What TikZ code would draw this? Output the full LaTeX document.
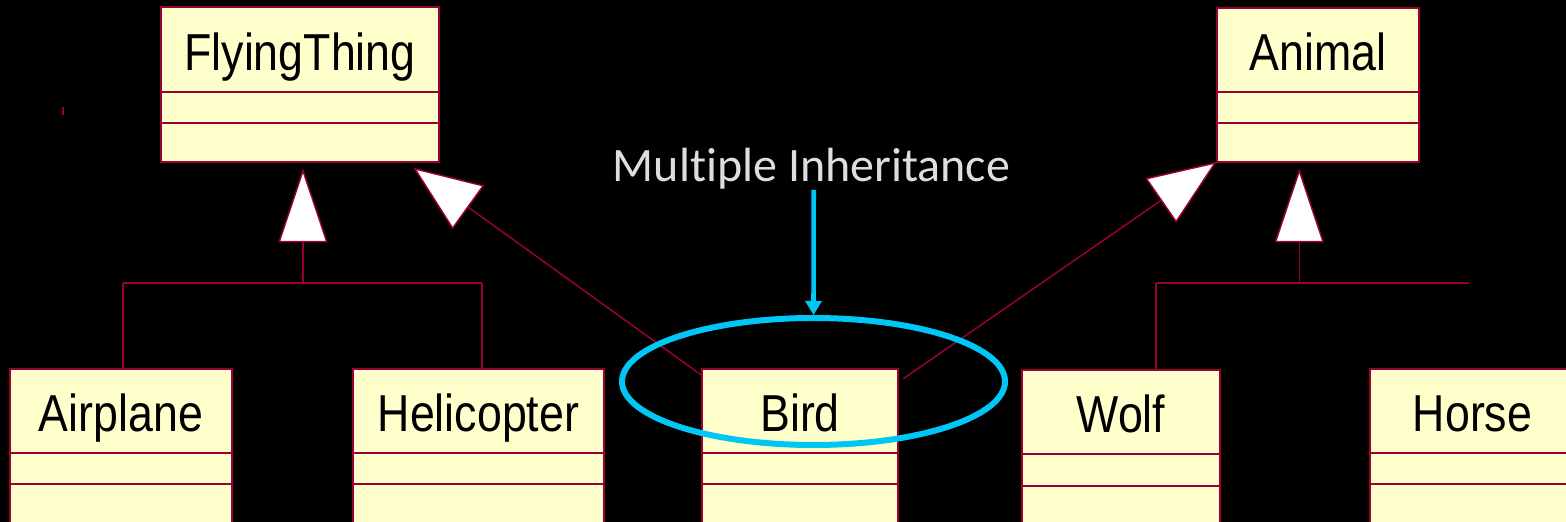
\documentclass[tikz,border=0pt]{standalone}
\usepackage{fontspec}
\newfontfamily\umlfont[FakeStretch=0.86]{Liberation Sans}
\newfontfamily\notefont[Ligatures=NoCommon,Contextuals=NoAlternate]{Carlito}
\usetikzlibrary{arrows.meta,fit,shapes.geometric}
\definecolor{umlred}{RGB}{153,0,51}
\definecolor{umlfill}{RGB}{255,255,204}
\definecolor{notecyan}{RGB}{0,198,245}
\definecolor{notegray}{RGB}{222,222,222}

% one UML class: name, x1, y1, x2, y2, first divider, second divider, title
\newcommand\umlclass[8]{%
  \node[clsbox, fit={(#2,#3) (#4,#5)}] (#1) {};
  \draw[divider] (#2,#6) -- (#4,#6) (#2,#7) -- (#4,#7);
  \node[clstitle] (#1-title) at ({(#2+#4)/2},{(#3+#6)/2+21}) {#8};
}

\begin{document}
\begin{tikzpicture}[x=0.5pt,y=-0.5pt,
  clsbox/.style={rectangle, draw=umlred, fill=umlfill, line width=1pt, inner sep=0pt},
  divider/.style={draw=umlred, line width=0.75pt},
  clstitle/.style={anchor=base, inner sep=0pt, text=black,
    font=\umlfont\fontsize{26pt}{30pt}\selectfont},
  genline/.style={draw=umlred, line width=0.75pt},
  genup/.style={genline, -{Triangle[length=37pt,width=24.5pt,fill=white]}},
  gendiag/.style={genline, -{Triangle[length=34pt,width=27pt,fill=white]}},
  notetext/.style={anchor=base, inner sep=0pt, text=notegray,
    font=\notefont\fontsize{24pt}{28pt}\selectfont},
  notearrow/.style={draw=notecyan, line width=2.3pt,
    -{Triangle[length=7pt,width=8pt]}},
  focusring/.style={ellipse, draw=notecyan, line width=3pt, inner sep=0pt,
    minimum width=191.5pt, minimum height=63.5pt}]

\useasboundingbox (0,0) rectangle (1566,522);
\fill[black] (0,0) rectangle (1566,522);
\clip (0,0) rectangle (1566,522);

% junction points of the generalisation trees
\coordinate (ftTip)     at (303,168.3);
\coordinate (ftJoin)    at (303,283);
\coordinate (planeTop)  at (123,283);
\coordinate (heliTop)   at (482,283);
\coordinate (anTip)     at (1299.3,168.3);
\coordinate (anJoin)    at (1299.3,283);
\coordinate (wolfTop)   at (1156,283);
\coordinate (anRight)   at (1469.3,283);
\coordinate (birdLeft)  at (702.7,376);
\coordinate (birdRight) at (903.3,378.7);
\coordinate (ftDiagTip) at (413.3,167.7);
\coordinate (anDiagTip) at (1216.6,161.9);
\coordinate (noteTail)  at (813.7,190);

% connectors
\draw[genline] (planeTop) -- (heliTop);
\draw[genline] (planeTop) -- (planeTop |- 0,369);
\draw[genline] (heliTop) -- (heliTop |- 0,369);
\draw[genup] (ftJoin) -- (ftTip);
\draw[genline] (wolfTop) -- (anRight);
\draw[genline] (wolfTop) -- (wolfTop |- 0,370);
\draw[genup] (anJoin) -- (anTip);
\draw[gendiag] (birdLeft) -- (ftDiagTip);
\draw[gendiag] (birdRight) -- (anDiagTip);
\draw[genline] (63,107) -- (63,115);

% classes
\umlclass{ft}{161}{7}{439}{162}{92}{123}{FlyingThing}
\umlclass{animal}{1217}{8}{1419}{162}{92}{123}{Animal}
\umlclass{airplane}{10}{369}{232}{540}{453}{484}{Airplane}
\umlclass{heli}{353}{369}{604}{540}{453}{484}{Helicopter}
\umlclass{bird}{702}{369}{898}{540}{453}{484}{Bird}
\umlclass{wolf}{1022}{370}{1220}{540}{454}{486}{Wolf}
\umlclass{horse}{1370}{369}{1575}{540}{453}{484}{Horse}

% note
\node[notetext] (note) at (811.5,181.7) {Multiple Inheritance};
\node[focusring] (focus) at (813.5,381.5) {};
\draw[notearrow] (noteTail) -- (focus.north);
\end{tikzpicture}
\end{document}
